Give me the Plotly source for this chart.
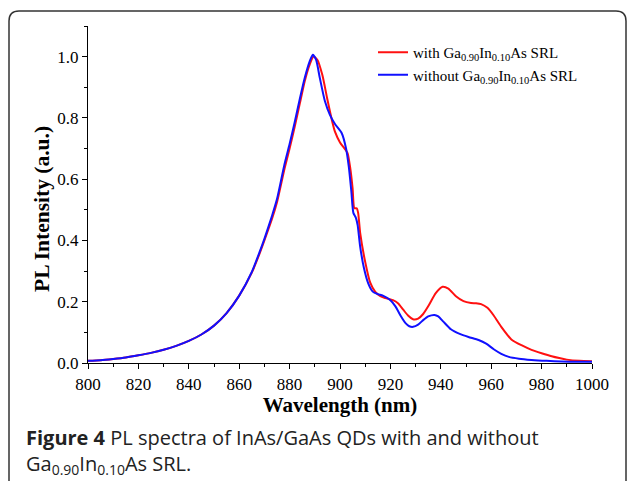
import plotly.graph_objects as go

# ---- data ----
wl_with = [800, 805, 810, 815, 820, 825, 830, 835, 840, 845, 850, 855, 860, 865, 868, 870, 873, 875, 878,
           880, 882, 884, 886, 888, 889.5, 891, 893, 895, 897, 898, 900, 902, 903, 904, 905, 905.7, 906.6,
           907.2, 908, 910, 912, 914, 916, 918, 921, 923, 925, 927, 929, 931, 933, 935, 938, 940.7, 943,
           946, 949, 952, 954, 956, 958.5, 961, 964, 968, 972, 976, 980, 984, 987, 990, 995, 1000]
int_with = [0.007, 0.009, 0.013, 0.018, 0.025, 0.033, 0.043, 0.056, 0.072, 0.093, 0.122, 0.163, 0.22,
            0.295, 0.355, 0.40, 0.47, 0.525, 0.635, 0.70, 0.77, 0.845, 0.92, 0.975, 1.0, 0.99, 0.94, 0.86,
            0.785, 0.755, 0.72, 0.698, 0.685, 0.64, 0.57, 0.505, 0.505, 0.49, 0.425, 0.33, 0.262, 0.232,
            0.218, 0.212, 0.205, 0.195, 0.175, 0.155, 0.143, 0.145, 0.16, 0.185, 0.228, 0.249, 0.243,
            0.218, 0.202, 0.196, 0.195, 0.192, 0.18, 0.155, 0.118, 0.077, 0.058, 0.043, 0.032, 0.022,
            0.016, 0.011, 0.007, 0.006]

wl_without = [800, 805, 810, 815, 820, 825, 830, 835, 840, 845, 850, 855, 860, 865, 868, 870, 873, 875, 878,
              880, 882, 884, 886, 888, 889.2, 890.5, 892, 894, 896, 898, 900.7, 902.4, 903.5, 904.5, 905.3,
              906.3, 907, 908, 909.5, 911.2, 913, 915, 917, 920, 922, 924, 926, 927.5, 929, 931, 933, 935,
              937.5, 939, 941, 944, 947.5, 951, 955, 958, 961, 964, 967, 971, 976, 982, 988, 994, 1000]
int_without = [0.007, 0.009, 0.013, 0.018, 0.025, 0.033, 0.043, 0.056, 0.072, 0.093, 0.122, 0.163, 0.22,
               0.297, 0.36, 0.405, 0.48, 0.535, 0.65, 0.715, 0.785, 0.86, 0.93, 0.985, 1.006, 0.99, 0.93,
               0.855, 0.81, 0.78, 0.75, 0.70, 0.64, 0.56, 0.49, 0.474, 0.45, 0.38, 0.31, 0.26, 0.233,
               0.225, 0.22, 0.205, 0.185, 0.155, 0.13, 0.12, 0.118, 0.125, 0.14, 0.152, 0.157, 0.152,
               0.135, 0.11, 0.095, 0.085, 0.075, 0.063, 0.045, 0.03, 0.02, 0.014, 0.01, 0.007, 0.005,
               0.004, 0.004]

x_ticks = [800, 820, 840, 860, 880, 900, 920, 940, 960, 980, 1000]
y_ticks = [0.0, 0.2, 0.4, 0.6, 0.8, 1.0]

label_with = "with Ga<sub>0.90</sub>In<sub>0.10</sub>As SRL"
label_without = "without Ga<sub>0.90</sub>In<sub>0.10</sub>As SRL"
x_title = "<b>Wavelength (nm)</b>"
y_title = "<b>PL Intensity (a.u.)</b>"
caption1 = "<b>Figure 4</b> PL spectra of InAs/GaAs QDs with and without"
caption2 = "Ga<sub>0.90</sub>In<sub>0.10</sub>As SRL."

# ---- layout geometry (pixels) ----
W, H = 627, 481
L, R, T, B = 88, 35, 26, 118
PW, PH = W - L - R, H - T - B


def px(x):
    return (x - L) / PW


def py(y):
    return (H - B - y) / PH


serif = "Liberation Serif, Times New Roman, serif"

fig = go.Figure()
fig.add_trace(go.Scatter(x=wl_with, y=int_with, mode="lines", name=label_with,
                         line=dict(color="#ff1010", width=2, shape="spline", smoothing=0.6)))
fig.add_trace(go.Scatter(x=wl_without, y=int_without, mode="lines", name=label_without,
                         line=dict(color="#1010ff", width=2, shape="spline", smoothing=0.6)))

axis_common = dict(showline=True, linecolor="black", linewidth=1.2, showgrid=False, zeroline=False,
                   tickcolor="black", tickwidth=1.2)

fig.update_layout(
    width=W, height=H,
    margin=dict(l=L, r=R, t=T, b=B),
    paper_bgcolor="white", plot_bgcolor="white",
    font=dict(family=serif, color="black"),
    xaxis=dict(range=[800, 1000], tickvals=x_ticks, ticks="outside", ticklen=5,
               minor=dict(dtick=10, ticks="outside", ticklen=3, tickcolor="black", tickwidth=1.2),
               tickfont=dict(size=17, family=serif),
               title=dict(text=x_title, font=dict(size=21, family=serif), standoff=1),
               **axis_common),
    yaxis=dict(range=[0, 1.1], tickvals=y_ticks, tickformat=".1f", ticks="outside", ticklen=5,
               minor=dict(dtick=0.1, ticks="outside", ticklen=3, tickcolor="black", tickwidth=1.2),
               tickfont=dict(size=17, family=serif),
               **axis_common),
    xaxis2=dict(overlaying="x", side="top", range=[800, 1000], tickvals=x_ticks, ticks="inside",
                ticklen=5, showticklabels=False,
                minor=dict(dtick=10, ticks="inside", ticklen=3, tickcolor="black", tickwidth=1.2),
                **axis_common),
    yaxis2=dict(overlaying="y", side="right", range=[0, 1.1], tickvals=y_ticks, ticks="inside",
                ticklen=5, showticklabels=False,
                minor=dict(dtick=0.1, ticks="inside", ticklen=3, tickcolor="black", tickwidth=1.2),
                **axis_common),
    legend=dict(x=px(373), y=py(36), xanchor="left", yanchor="top", bgcolor="rgba(0,0,0,0)",
                font=dict(size=15, family=serif), tracegroupgap=0, itemwidth=30),
    showlegend=True,
)

# y-axis title (placed as in the reference, slightly below the plot centre)
fig.add_annotation(text=y_title, x=px(42), y=py(209), xref="paper", yref="paper", textangle=-90,
                   xanchor="center", yanchor="middle", showarrow=False,
                   font=dict(size=21.5, family=serif, color="black"))

# rounded frame around the figure
x0, y0, x1, y1, r = 9, 11, 626, 500, 10
path = (f"M {px(x0 + r)} {py(y0)} L {px(x1 - r)} {py(y0)} Q {px(x1)} {py(y0)} {px(x1)} {py(y0 + r)} "
        f"L {px(x1)} {py(y1)} L {px(x0)} {py(y1)} L {px(x0)} {py(y0 + r)} "
        f"Q {px(x0)} {py(y0)} {px(x0 + r)} {py(y0)} Z")
fig.add_shape(type="path", path=path, xref="paper", yref="paper",
              line=dict(color="#333333", width=1.5), layer="below")

cap_font = dict(family="Open Sans, Noto Sans, sans-serif", size=20, color="#222222")
fig.add_annotation(text=caption1, x=px(24), y=py(437), xref="paper", yref="paper",
                   xanchor="left", yanchor="middle", showarrow=False, font=cap_font)
fig.add_annotation(text=caption2, x=px(24), y=py(464), xref="paper", yref="paper",
                   xanchor="left", yanchor="middle", showarrow=False, font=cap_font)

fig.write_html("out.html")
